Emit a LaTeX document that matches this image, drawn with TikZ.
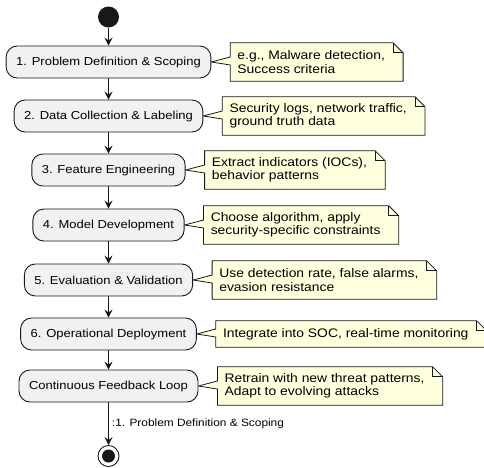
\documentclass[tikz,border=0pt]{standalone}
\usepackage{fontspec}
\setmainfont{Liberation Sans}[FakeStretch=1.12]
\usetikzlibrary{calc}
\usetikzlibrary{arrows.meta,backgrounds}
\usetikzlibrary{positioning}
\definecolor{linecol}{HTML}{181818}
\definecolor{boxcol}{HTML}{F1F1F1}
\definecolor{notecol}{HTML}{FEFFDD}

\begin{document}
\begin{tikzpicture}[x=1pt,y=-1pt,>={Stealth[length=8pt,width=8pt,inset=3pt]}]
      \tikzstyle{phase}=[rectangle,rounded corners=11pt,draw=linecol,fill=boxcol,line width=0.9pt,minimum height=32pt,inner xsep=10pt,font=\fontsize{11.6}{13}\selectfont]
      \tikzstyle{memo}=[rectangle,inner xsep=7pt,inner ysep=0pt,align=left,minimum height=38pt,font=\fontsize{12.4}{13.3}\selectfont]
      \tikzstyle{flow}=[->,draw=linecol,line width=0.9pt]
      \useasboundingbox (0,0) rectangle (484,467);
      % start and stop
      \node[circle,fill=linecol,inner sep=0pt,minimum size=21pt] (start) at (108.5,17) {};
      \node[circle,draw=linecol,line width=0.9pt,inner sep=0pt,minimum size=21pt] (stop) at (108.5,456) {};
      \fill[linecol] (stop) circle (6.5pt);
      % phases
      \node[phase] (p1) at (108.5,62) {1. Problem Definition \& Scoping};
      \node[phase] (p2) at (108.5,116) {2. Data Collection \& Labeling};
      \node[phase] (p3) at (108.5,170) {3. Feature Engineering};
      \node[phase] (p4) at (108.5,225) {4. Model Development};
      \node[phase] (p5) at (108.5,280) {5. Evaluation \& Validation};
      \node[phase] (p6) at (108.5,334) {6. Operational Deployment};
      \node[phase] (p7) at (108.5,386) {Continuous Feedback Loop};
      % notes
      \node[memo,right=19pt of p1] (n1) {e.g., Malware detection,\\Success criteria};
      \node[memo,right=19pt of p2] (n2) {Security logs, network traffic,\\ground truth data};
      \node[memo,right=19pt of p3] (n3) {Extract indicators (IOCs),\\behavior patterns};
      \node[memo,right=19pt of p4] (n4) {Choose algorithm, apply\\security-specific constraints};
      \node[memo,right=19pt of p5] (n5) {Use detection rate, false alarms,\\evasion resistance};
      \node[memo,right=19pt of p6,minimum height=26pt] (n6) {Integrate into SOC, real-time monitoring};
      \node[memo,right=19pt of p7] (n7) {Retrain with new threat patterns,\\Adapt to evolving attacks};
      \begin{scope}[on background layer]
      \fill[white] (0,0) rectangle (484,467);
      \foreach \n/\p in {n1/p1,n2/p2,n3/p3,n4/p4,n5/p5,n6/p6,n7/p7} {
        \filldraw[fill=notecol,draw=linecol,line width=0.8pt] (\n.north west) -- ($(\n.north east)+(1,0)$) -- ($(\n.north east)+(11,10)$) -- ($(\n.south east)+(11,0)$) -- (\n.south west) -- ($(\n.west)+(0,3)$) -- (\p.east) -- ($(\n.west)+(0,-5)$) -- cycle;
        \draw[linecol,line width=0.8pt] ($(\n.north east)+(1,0)$) -- ++(0,10) -- ++(10,0);
      }
      \end{scope}
      % connectors
      \foreach \a/\b in {start/p1,p1/p2,p2/p3,p3/p4,p4/p5,p5/p6,p6/p7}
        \draw[flow] (\a) -- (\b);
      \draw[flow] (p7) -- node[right,inner xsep=3pt,font=\fontsize{10.6}{12}\selectfont] {:1. Problem Definition \& Scoping} (stop);
\end{tikzpicture}
\end{document}
